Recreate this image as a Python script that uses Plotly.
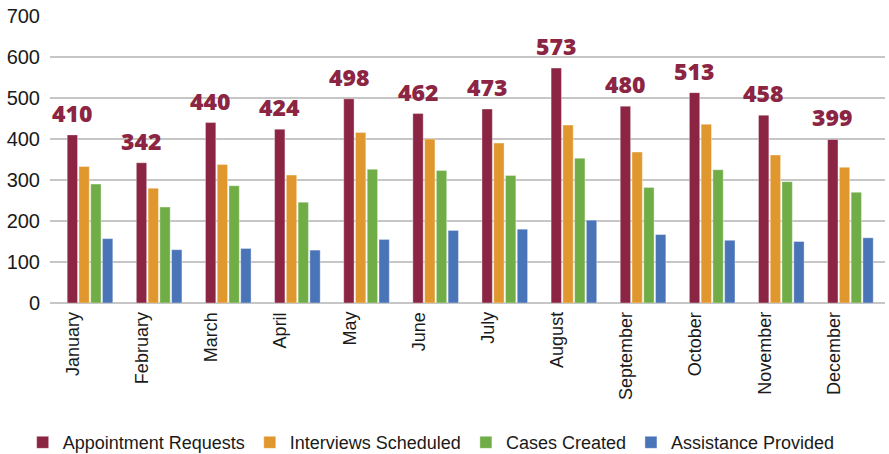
import plotly.graph_objects as go

months = ["January", "February", "March", "April", "May", "June", "July",
          "August", "September", "October", "November", "December"]
appointment_requests = [410, 342, 440, 424, 498, 462, 473, 573, 480, 513, 458, 399]
interviews_scheduled = [333, 280, 338, 312, 416, 400, 390, 434, 368, 436, 361, 331]
cases_created = [290, 234, 286, 246, 326, 323, 311, 353, 282, 325, 296, 270]
assistance_provided = [157, 130, 133, 129, 155, 177, 180, 202, 167, 153, 150, 159]
y_ticks = [0, 100, 200, 300, 400, 500, 600, 700]

series = [
    ("Appointment Requests", appointment_requests, "#8B2543"),
    ("Interviews Scheduled", interviews_scheduled, "#E0982E"),
    ("Cases Created", cases_created, "#70AD47"),
    ("Assistance Provided", assistance_provided, "#4A74B8"),
]

fig = go.Figure()
for name, vals, color in series:
    fig.add_trace(go.Bar(
        x=months, y=vals, name=name,
        marker=dict(color=color, line=dict(color="rgba(255,255,255,0.6)", width=0.6)),
    ))

for m, v in zip(months, appointment_requests):
    fig.add_annotation(
        x=m, y=v, text=str(v), showarrow=False,
        xanchor="center", yanchor="bottom", xshift=-18, yshift=4,
        font=dict(family="Open Sans", size=23, color="#8B2543", weight=800),
    )

# month labels (rotated), sitting under the left part of each group
for m in months:
    fig.add_annotation(
        x=m, y=0, text=m, showarrow=False, textangle=-90,
        xanchor="center", yanchor="top", xshift=-17, yshift=-7,
        font=dict(family="Liberation Sans", size=18, color="#1a1a1a"),
    )

fig.update_layout(
    width=889, height=454,
    margin=dict(l=50, r=4, t=16, b=151, autoexpand=False),
    paper_bgcolor="white", plot_bgcolor="white",
    barmode="group", bargap=0.32, bargroupgap=0.12,
    font=dict(family="Liberation Sans", color="#1a1a1a"),
    showlegend=True,
    legend=dict(
        orientation="h", xref="container", yref="container",
        x=0.485, xanchor="center", y=0.025, yanchor="middle",
        font=dict(family="Liberation Sans", size=18, color="#1a1a1a"),
        itemwidth=30, traceorder="normal",
    ),
    xaxis=dict(
        showticklabels=False,
        showgrid=False, showline=False, ticks="",
        automargin=False,
    ),
    yaxis=dict(
        range=[0, 700], tickvals=y_ticks,
        tickfont=dict(size=20, color="#1a1a1a"),
        showgrid=True, gridcolor="#C6C6C6", gridwidth=1.5,
        zeroline=True, zerolinecolor="#C6C6C6", zerolinewidth=1.5,
        showline=False, ticks="", ticklabelstandoff=9, automargin=False,
    ),
)

fig.write_html("out.html", config={"displayModeBar": False},
               post_script="document.body.style.margin='0';")
